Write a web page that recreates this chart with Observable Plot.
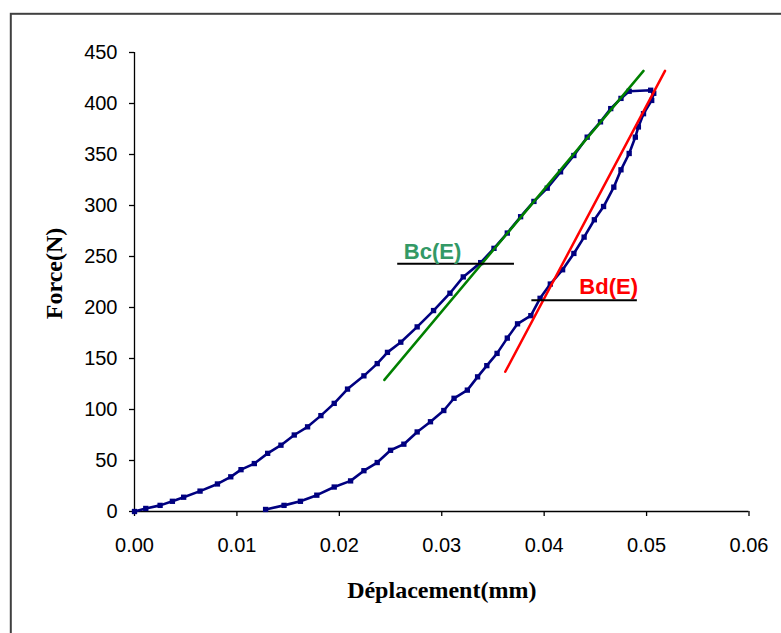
<!DOCTYPE html>
<html>
<head>
<meta charset="utf-8">
<script src="https://cdn.jsdelivr.net/npm/d3@7"></script>
<script src="https://cdn.jsdelivr.net/npm/@observablehq/plot@0.6"></script>
<style>
  html, body { margin: 0; padding: 0; background: #fff; overflow: hidden; }
</style>
</head>
<body>
<div id="chart"></div>
<script>
// Loading branch (Déplacement mm, Force N)
const loadX = [0, 0.0011, 0.0025, 0.0037, 0.0048, 0.0064, 0.0081, 0.0094, 0.0104, 0.0117, 0.013, 0.0143, 0.0156, 0.0169, 0.0182, 0.0195, 0.0208, 0.0224, 0.0237, 0.0247, 0.026, 0.0276, 0.0292, 0.0308, 0.0321, 0.0338, 0.0351, 0.0364, 0.0377, 0.039, 0.0403, 0.0416, 0.0429, 0.0442, 0.0455, 0.0465, 0.0475, 0.0483, 0.0504];
const loadF = [0, 3, 6, 10, 14, 20, 27, 34, 41, 47, 57, 65, 75, 83, 94, 106, 120, 133, 145, 156, 166, 181, 197, 214, 230, 244, 258, 273, 289, 304, 317, 333, 349, 367, 382, 395, 405, 412, 413];
// Unloading branch
const unloadX = [0.0507, 0.0505, 0.0497, 0.0492, 0.0489, 0.0483, 0.0475, 0.0468, 0.0458, 0.0449, 0.0439, 0.0429, 0.0418, 0.0406, 0.0396, 0.0387, 0.0374, 0.0364, 0.0354, 0.0344, 0.0335, 0.0325, 0.0312, 0.0302, 0.0289, 0.0276, 0.0263, 0.025, 0.0237, 0.0224, 0.0211, 0.0195, 0.0178, 0.0162, 0.0146, 0.0128];
const unloadF = [410, 403, 390, 377, 367, 351, 335, 318, 299, 286, 269, 253, 237, 223, 209, 192, 184, 170, 155, 143, 132, 119, 111, 99, 88, 78, 66, 60, 48, 40, 30, 24, 16, 10, 6, 2];
// Tangent lines
const greenX = [0.0244, 0.0497];
const greenF = [129, 432];
const redX = [0.0362, 0.0518];
const redF = [137, 432];
// Horizontal reference lines
const bcX = [0.0257, 0.0371];
const bcF = 243;
const bdX = [0.0388, 0.0491];
const bdF = 207;
// Labels
const labels = ["Bc(E)", "Bd(E)"];
const labelX = [0.0291, 0.0463];
const labelF = [248, 213];
// Ticks
const xTicks = [0, 0.01, 0.02, 0.03, 0.04, 0.05, 0.06];
const yTicks = [0, 50, 100, 150, 200, 250, 300, 350, 400, 450];

const curve = loadX.map((x, i) => ({x, f: loadF[i]}))
  .concat(unloadX.map((x, i) => ({x, f: unloadF[i]})));
const green = greenX.map((x, i) => ({x, f: greenF[i]}));
const red = redX.map((x, i) => ({x, f: redF[i]}));
const labelData = labels.map((t, i) => ({t, x: labelX[i], f: labelF[i]}));

const plot = Plot.plot({
  width: 781,
  height: 633,
  marginLeft: 134,
  marginRight: 32.5,
  marginTop: 52,
  marginBottom: 122,
  style: {fontFamily: "'Liberation Sans', Arial, sans-serif", fontSize: "20px", background: "#fff", color: "#000"},
  x: {domain: [0, 0.06]},
  y: {domain: [0, 450]},
  marks: [
    Plot.frame({stroke: "#404040", strokeWidth: 2, insetLeft: -123.7, insetTop: -38.7, insetRight: -200, insetBottom: -300}),
    Plot.axisX({ticks: xTicks, tickFormat: d => d.toFixed(2), tickSize: 5, tickPadding: 21, label: null, stroke: "#000", strokeWidth: 1.3}),
    Plot.axisY({ticks: yTicks, tickFormat: d => String(d), tickSize: 5, tickPadding: 12, label: null, stroke: "#000", strokeWidth: 1.3}),
    Plot.ruleY([0], {stroke: "#000", strokeWidth: 1.3}),
    Plot.ruleX([0], {stroke: "#000", strokeWidth: 1.3}),
    Plot.line(curve, {x: "x", y: "f", stroke: "#000080", strokeWidth: 2.6}),
    Plot.dot(curve, {x: "x", y: "f", r: 3, symbol: "square", fill: "#000080", stroke: "none"}),
    Plot.line(green, {x: "x", y: "f", stroke: "#008000", strokeWidth: 2.5}),
    Plot.line(red, {x: "x", y: "f", stroke: "#ff0000", strokeWidth: 2.5}),
    Plot.ruleY([bcF], {x1: bcX[0], x2: bcX[1], stroke: "#000", strokeWidth: 2}),
    Plot.ruleY([bdF], {x1: bdX[0], x2: bdX[1], stroke: "#000", strokeWidth: 2}),
    Plot.text(labelData, {x: "x", y: "f", text: "t", lineAnchor: "bottom", textAnchor: "middle",
      fill: (d) => d.t === "Bc(E)" ? "#339966" : "#ff0000", fontWeight: "bold", fontSize: 22,
      fontFamily: "'Liberation Sans', Arial, sans-serif"}),
    Plot.text(["Déplacement(mm)"], {frameAnchor: "bottom", dy: 79, lineAnchor: "middle", textAnchor: "middle", fontFamily: "'Liberation Serif', 'Times New Roman', serif", fontWeight: "bold", fontSize: 24, fill: "#000"}),
    Plot.text(["Force(N)"], {frameAnchor: "left", dx: -80, dy: -8.5, rotate: -90, lineAnchor: "middle", textAnchor: "middle", fontFamily: "'Liberation Serif', 'Times New Roman', serif", fontWeight: "bold", fontSize: 24, fill: "#000"})
  ]
});
document.getElementById("chart").appendChild(plot);
</script>
</body>
</html>
